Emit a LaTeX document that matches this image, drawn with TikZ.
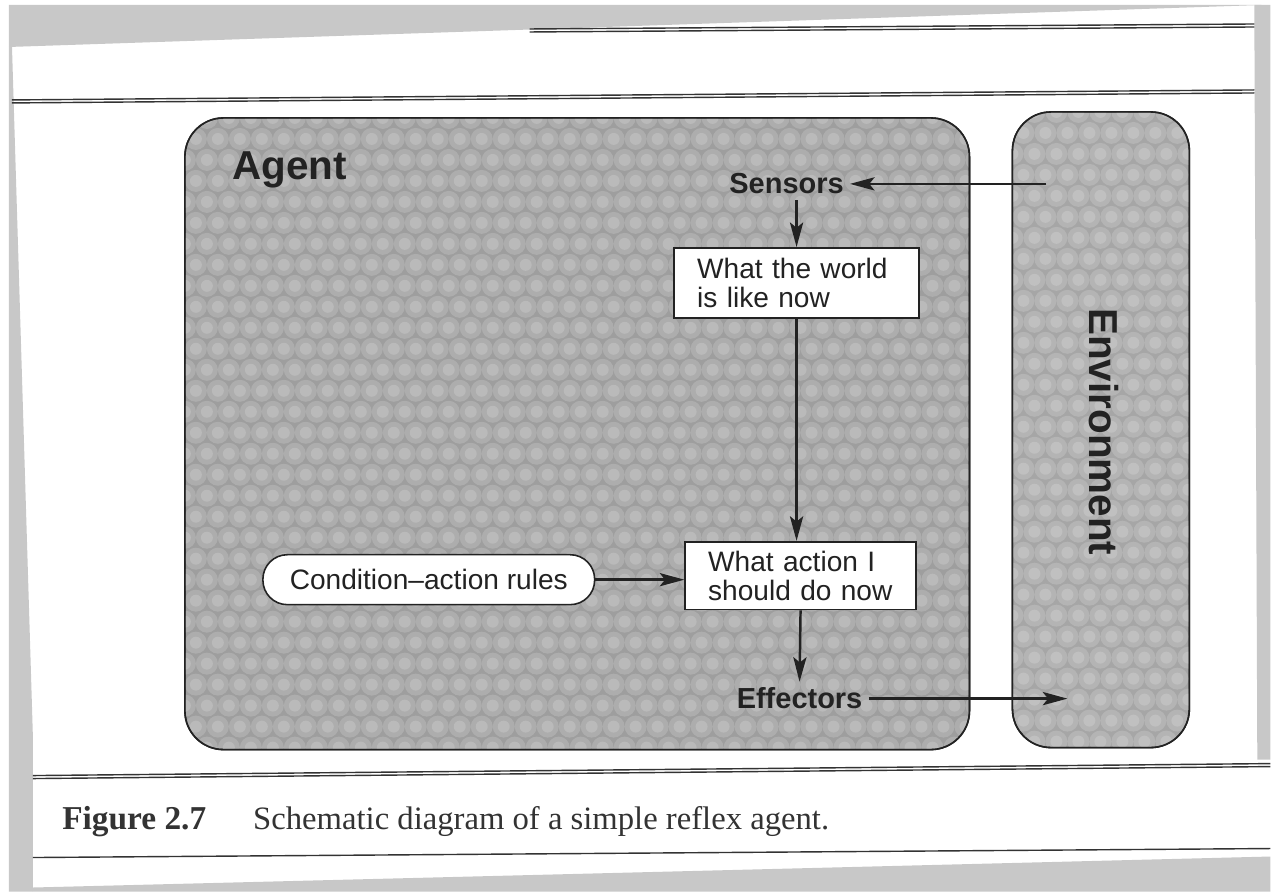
\documentclass[tikz,border=0pt]{standalone}
\usepackage{fontspec}
\setmainfont{Liberation Serif}
\setsansfont{Liberation Sans}
\usetikzlibrary{arrows.meta,positioning}

\definecolor{scangray}{HTML}{C8C8C8}
\definecolor{agentgray}{HTML}{9E9E9E}
\definecolor{envgray}{HTML}{A6A6A6}
\definecolor{ink}{HTML}{222222}
\definecolor{capink}{HTML}{333333}

\begin{document}
\begin{tikzpicture}[x=0.02cm,y=-0.02cm,
        every node/.style={text=ink, font=\sffamily\fontsize{16}{16.5}\selectfont},
        tag/.style={font=\sffamily\bfseries\fontsize{16.5}{18}\selectfont},
        title/.style={font=\sffamily\bfseries\fontsize{23}{26}\selectfont},
        panel/.style={draw=ink, line width=0.9pt, rounded corners=22pt},
        grain/.style={white, opacity=0.16},
        box/.style={draw=ink, fill=white, line width=0.9pt, align=left, inner xsep=0.46cm, inner ysep=2pt, minimum height=1.4cm},
        rule/.style={capink, line width=0.8pt},
        link/.style={ink, line width=1.4pt, -{Stealth[length=14pt,width=7.5pt,inset=3pt]}}]
    % scanned page
    \fill[white] (0,0) rectangle (1271,892);
    \fill[scangray] (9,5) -- (1262,5) -- (9,47) -- cycle;
    \fill[scangray] (1255,5) -- (1271,5) -- (1271,760) -- (1258,760) -- cycle;
    \fill[scangray] (9,47) -- (12,47) -- (33,740) -- (33,892) -- (9,892) -- cycle;
    \fill[scangray] (33,888) -- (1271,857) -- (1271,892) -- (33,892) -- cycle;
    \draw[rule] (530,29)--(1255,24);
    \draw[rule] (530,32)--(1255,27);
    \draw[rule] (12,100)--(1255,90);
    \draw[rule] (12,103)--(1255,93);
    \draw[rule] (33,776)--(1271,764);
    \draw[rule] (33,779)--(1271,767);
    \draw[rule] (33,858)--(1271,849);

    % agent and environment, with the halftone grain
    \draw[panel, fill=agentgray] (185,118) rectangle (970,750);
    \begin{scope}
        \clip[rounded corners=22pt] (185,118) rectangle (970,750);
        \foreach \i in {0,...,36}
            \foreach \j in {0,...,30}{
                \fill[grain] ({185+\i*22+mod(\j,2)*11},{118+\j*21}) circle (11);
                \fill[grain] ({185+\i*22+mod(\j,2)*11},{118+\j*21}) circle (6);
            }
    \end{scope}
    \draw[panel] (185,118) rectangle (970,750);
    \draw[panel, fill=envgray] (1013,112) rectangle (1190,748);
    \begin{scope}
        \clip[rounded corners=22pt] (1013,112) rectangle (1190,748);
        \foreach \i in {0,...,8}
            \foreach \j in {0,...,30}{
                \fill[grain] ({1013+\i*22+mod(\j,2)*11},{112+\j*21}) circle (11);
                \fill[grain] ({1013+\i*22+mod(\j,2)*11},{112+\j*21}) circle (6);
            }
    \end{scope}
    \draw[panel] (1013,112) rectangle (1190,748);
    \node[title] (agent) at (290,170) {Agent};
    \node[title, rotate=-90] (env) at (1105,432) {Environment};

    \node[tag] (sens) at (787,184) {Sensors};
    \node[box, text width=3.98cm] (world) at (797,283) {What the world\\is like now};
    \node[box, text width=3.70cm, minimum height=1.36cm] (action) at (801,576) {What action I\\should do now};
    \node[draw=ink, fill=white, line width=0.9pt, rounded corners=0.49cm, minimum width=6.64cm, minimum height=1cm] (rules) at (429,580) {Condition--action rules};
    \node[tag] (eff) at (800,699) {Effectors};
    \coordinate (envin) at (1047,184);
    \coordinate (envout) at (1068,699);

    \draw[link] (envin) -- (sens.east);
    \draw[link] (sens.south -| world.north) -- (world.north);
    \draw[link] (world.south) -- (world.south |- action.north);
    \draw[link] (rules.east) -- (rules.east -| action.west);
    \draw[link] (action.south) -- (eff.north);
    \draw[link] (eff.east) -- (envout);

    % caption
    \node[anchor=base west, inner sep=0pt, text=capink, font=\rmfamily\bfseries\fontsize{19}{22}\selectfont] (fig) at (62,830) {Figure 2.7};
    \node[anchor=base west, inner sep=0pt, text=capink, font=\rmfamily\fontsize{18.6}{22}\selectfont] (cap) at (253,830) {Schematic diagram of a simple reflex agent.};
\end{tikzpicture}
\end{document}
